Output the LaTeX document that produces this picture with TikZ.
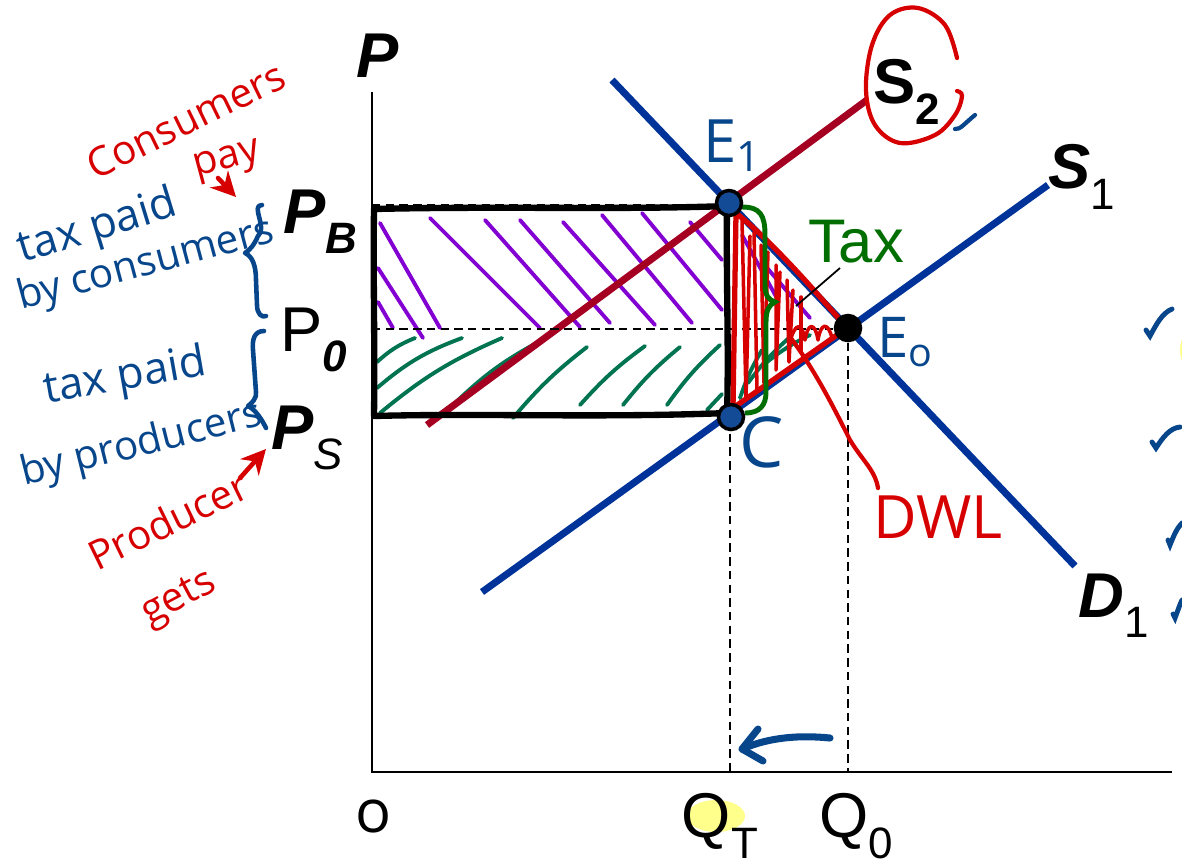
\documentclass[tikz,border=0pt]{standalone}
\usepackage{fontspec}
\setmainfont{Liberation Sans}
\newfontfamily\hand{Open Sans}
\usetikzlibrary{arrows.meta}
\definecolor{dblue}{RGB}{0,51,153}
\definecolor{stwored}{RGB}{165,0,33}
\definecolor{hblue}{RGB}{8,70,140}
\definecolor{hred}{RGB}{215,0,0}
\definecolor{taxgreen}{RGB}{0,110,0}
\definecolor{hgreen}{RGB}{0,115,80}
\definecolor{purp}{RGB}{130,0,210}
\definecolor{dotblue}{RGB}{20,75,150}
\definecolor{hilite}{RGB}{255,255,140}
\newcommand\sbx[1]{\raisebox{-0.32em}{\fontsize{12.5}{13}\selectfont #1}}
\tikzset{
  curveline/.style={line width=2pt},
  axisline/.style={line width=0.7pt},
  guide/.style={line width=0.45pt, dash pattern=on 2.4pt off 1.5pt},
  lbl/.style={font=\fontsize{18}{20}\selectfont, inner sep=0pt},
  handtxt/.style={font=\hand\fontsize{11.5}{13}\selectfont, inner sep=0pt, align=center},
  handline/.style={line width=1.3pt, line cap=round, line join=round},
  hatchp/.style={purp, line width=1.1pt, line cap=round},
  hatchg/.style={hgreen, line width=1.1pt, line cap=round},
  hatchr/.style={hred, line width=1pt, line cap=round, line join=round},
  eqdot/.style={circle, draw=black, line width=1pt, inner sep=0pt, minimum size=0.25cm},
  rectline/.style={line width=1.8pt, line join=round},
  checkmark/.style={hblue, line width=1.2pt, line cap=round}
}
\begin{document}
\begin{tikzpicture}[x=0.01cm,y=-0.01cm]
\useasboundingbox (0,0) rectangle (1182,863);

% ---- hatching: purple (consumers) ----
\draw[hatchp] (380,223) -- (440,328);
\draw[hatchp] (378,268) -- (423,338);
\draw[hatchp] (378,302) -- (393,328);
\draw[hatchp] (430,218) -- (540,328);
\draw[hatchp] (485,220) -- (580,327);
\draw[hatchp] (520,220) -- (610,323);
\draw[hatchp] (563,222) -- (655,325);
\draw[hatchp] (602,215) -- (692,323);
\draw[hatchp] (642,213) -- (722,310);
\draw[hatchp] (690,222) -- (722,260);
\draw[hatchp] (742,235) -- (778,300);
\draw[hatchp] (762,262) -- (810,318);

% ---- hatching: green (producers) ----
\draw[hatchg] (377,362) to[bend left=10] (415,338);
\draw[hatchg] (377,388) to[bend left=10] (462,338);
\draw[hatchg] (380,413) to[bend left=8] (502,338);
\draw[hatchg] (453,405) to[bend left=8] (542,340);
\draw[hatchg] (513,418) to[bend left=6] (587,347);
\draw[hatchg] (580,405) to[bend left=6] (645,346);
\draw[hatchg] (623,405) to[bend left=6] (680,347);
\draw[hatchg] (667,405) to[bend left=6] (720,345);
\draw[hatchg] (707,410) -- (722,394);
\draw[hatchg] (740,398) to[bend left=6] (762,350);
\draw[hatchg] (748,383) to[bend left=6] (790,337);
\draw[hatchg] (767,362) to[bend left=6] (810,335);

% ---- axes ----
\coordinate (O) at (372,772);
\coordinate (ytop) at (372,92);
\coordinate (xend) at (1172,772);
\draw[axisline] (ytop) -- (O) -- (xend);

% ---- curves ----
\coordinate (S2a) at (427,425);
\coordinate (S2b) at (867,100);
\coordinate (S1a) at (482,592);
\coordinate (S1b) at (1048,185);
\coordinate (D1a) at (612,80);
\coordinate (D1b) at (1075,566);
\draw[curveline, stwored] (S2a) -- (S2b);
\draw[curveline, dblue] (S1a) -- (S1b);
\draw[curveline, dblue] (D1a) -- (D1b);

% ---- guides ----
\coordinate (PBy) at (372,205);
\coordinate (P0y) at (372,329);
\coordinate (QTx) at (730,772);
\coordinate (Q0x) at (848,772);
\coordinate (E1g) at (729,205);
\coordinate (E0g) at (848,329);
\draw[guide] (PBy) -- (E1g);
\draw[guide] (P0y) -- (E0g);
\draw[guide] (730,420) -- (QTx);
\draw[guide] (E0g) -- (Q0x);

% ---- tax rectangle ----
\draw[rectline] (374,209) .. controls (500,206) and (620,210) .. (727,206)
  .. controls (726,280) and (729,350) .. (727,413)
  .. controls (600,418) and (480,413) .. (374,416)
  .. controls (375,340) and (373,280) .. (374,209) -- cycle;

% ---- DWL triangle ----
\draw[green!80!black, line width=0.6pt] (735,215) -- (734,405);
\draw[hatchr] (742,220) -- (746,398) -- (750,236);
\draw[hatchr] (754,232) -- (757,390);
\draw[hatchr] (761,245) -- (764,383) -- (768,252);
\draw[hatchr] (776,265) -- (776,370) -- (780,272);
\draw[hatchr] (787,280) -- (789,362) -- (793,290);
\draw[hatchr] (801,297) -- (801,350);
\draw[hatchr] (790,342) .. controls (795,322) and (802,322) .. (805,340)
  .. controls (808,322) and (815,322) .. (818,340)
  .. controls (821,322) and (828,322) .. (832,338);
\draw[hatchr] (838,320) -- (840,334);
\draw[hred, line width=1.5pt, line join=round] (736,213) .. controls (770,240) and (810,285) .. (847,328)
  -- (733,408) -- cycle;

% ---- tax brace ----
\draw[taxgreen, line width=1.4pt] (742,207) .. controls (760,207) and (765,215) .. (765,235)
  -- (765,285) .. controls (765,296) and (769,300) .. (775,302)
  .. controls (769,305) and (766,310) .. (766,322)
  -- (766,392) .. controls (766,405) and (760,413) .. (745,413);

% ---- equilibrium dots ----
\node[eqdot, fill=dotblue] (E1) at (729,203) {};
\node[eqdot, fill=dotblue] (C) at (731,417) {};
\node[eqdot, fill=black] (E0) at (848,328) {};

% ---- DWL pointer ----
\coordinate (dwlin) at (790,337);
\node[handtxt, hred, font=\hand\fontsize{17}{18}\selectfont] (DWL) at (938,517) {DWL};
\draw[hred, line width=1.2pt, line cap=round] (dwlin) .. controls (815,370) and (835,410) .. (850,440)
  .. controls (862,460) and (875,470) .. (878,488);

% ---- Tax label ----
\node[lbl, taxgreen, font=\fontsize{17.5}{18}\selectfont] (Tax) at (856,242) {Tax};
\coordinate (taxpt) at (796,306);
\draw[line width=0.5pt] (840,268) -- (taxpt);

% ---- axis and curve labels ----
\node[lbl, font=\fontsize{18}{20}\selectfont\bfseries\itshape] (P) at (378,56) {P};
\node[lbl] (PB) at (320,222) {\bfseries\itshape P\sbx{B}};
\node[lbl] (P0) at (314,340) {P\sbx{\bfseries\itshape 0}};
\node[lbl] (PS) at (307,438) {\bfseries\itshape P\sbx{\mdseries S}};
\node[lbl] (S2) at (907,92) {\bfseries S\sbx{2}};
\node[lbl] (S1) at (1082,177) {\bfseries\itshape S\sbx{\mdseries\upshape 1}};
\node[lbl] (D1) at (1114,606) {\bfseries\itshape D\sbx{\mdseries\upshape 1}};
\fill[hilite] (716,816) ellipse [x radius=29, y radius=16];
\node[lbl] (QT) at (720,826) {Q\sbx{T}};
\node[lbl] (Q0) at (856,826) {Q\sbx{0}};
\node[lbl, font=\hand\fontsize{17}{18}\selectfont] (orig) at (374,816) {o};

% ---- handwritten point labels ----
\node[handtxt, hblue, font=\hand\fontsize{17}{18}\selectfont] (E1l) at (733,146) {E\textsubscript{1}};
\node[handtxt, hblue, font=\hand\fontsize{16}{17}\selectfont] (E0l) at (906,342) {E\textsubscript{o}};
\node[handtxt, hblue, font=\hand\fontsize{20}{20}\selectfont] (Cl) at (762,442) {C};

% ---- S2 circle and small check ----
\draw[hred, line width=1.2pt, line cap=round] plot[smooth, tension=0.6] coordinates {
  (957,58) (945,25) (918,8) (890,15) (872,45) (866,90) (875,125) (900,143) (935,135) (955,115) (962,96) (957,91)};
\draw[checkmark] (955,129) .. controls (960,130) and (965,123) .. (975,115);

% ---- blue arrow (quantity falls) ----
\coordinate (arrS) at (830,738);
\coordinate (arrE) at (742,749);
\draw[hblue, line width=2pt, line cap=round] (arrS) .. controls (800,735) and (770,737) .. (arrE);
\draw[hblue, line width=2pt, line cap=round, line join=round] (758,729) -- (arrE) -- (763,761);

% ---- checks on right ----
\draw[checkmark, line width=1.4pt] (1146,330) -- (1150,336) .. controls (1156,325) and (1162,313) .. (1172,309);
\draw[checkmark, line width=1.4pt] (1152,442) -- (1156,448) .. controls (1163,437) and (1170,428) .. (1180,427);
\draw[checkmark, line width=1.4pt] (1168,540) -- (1170,545) .. controls (1174,535) and (1177,528) .. (1182,523);
\draw[checkmark, line width=1.4pt] (1173,614) -- (1175,618) .. controls (1178,610) and (1180,604) .. (1182,600);
\fill[hilite] (1186,350) ellipse [x radius=6, y radius=14];

% ---- left annotations ----
\node[handtxt, hred, font=\hand\fontsize{11.5}{13}\selectfont, rotate=26] (cons) at (186,120) {Consumers};
\node[handtxt, hred, rotate=15] (pay) at (228,162) {pay};
\coordinate (payto) at (236,197);
\draw[hred, handline, -{Stealth[length=7pt,width=7pt]}] (218,178) -- (payto);

\node[handtxt, hblue, font=\hand\fontsize{12.5}{14}\selectfont, rotate=17] (tpc) at (98,228) {tax paid};
\node[handtxt, hblue, rotate=15] (byc) at (146,265) {by consumers};
\draw[hblue, handline] (262,205) .. controls (250,205) and (268,228) .. (258,236)
  .. controls (254,245) and (250,250) .. (245,253)
  .. controls (252,256) and (256,265) .. (256,280) -- (257,305)
  .. controls (257,314) and (262,318) .. (266,316);

\node[handtxt, hblue, font=\hand\fontsize{12.5}{14}\selectfont, rotate=10] (tpp) at (125,378) {tax paid};
\node[handtxt, hblue, rotate=14] (byp) at (142,445) {by producers};
\draw[hblue, handline] (264,331) .. controls (254,331) and (252,340) .. (253,350)
  -- (256,392) .. controls (257,398) and (252,403) .. (248,406)
  .. controls (256,410) and (262,420) .. (266,428);

\node[handtxt, hred, font=\hand\fontsize{11.5}{13}\selectfont, rotate=26] (prod) at (168,520) {Producer};
\node[handtxt, hred, rotate=28] (gets) at (180,600) {gets};
\coordinate (getsto) at (266,449);
\draw[hred, handline, -{Stealth[length=7pt,width=7pt]}] (240,478) -- (getsto);

\end{tikzpicture}
\end{document}
